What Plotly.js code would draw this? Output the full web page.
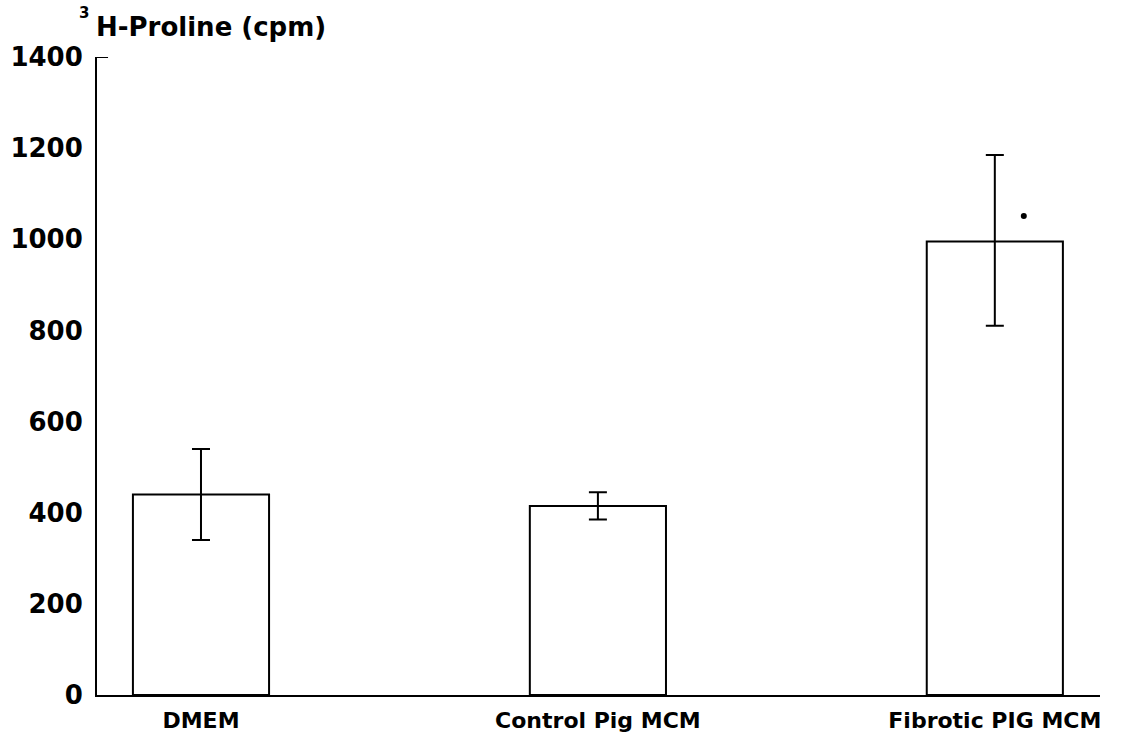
<!DOCTYPE html>
<html>
<head>
<meta charset="utf-8">
<script src="https://cdn.plot.ly/plotly-3.0.1.min.js"></script>
<style>html,body{margin:0;padding:0;background:#fff;}#chart{width:1125px;height:734px;}</style>
</head>
<body>
<div id="chart"></div>
<script>
// Data
const categories = ["DMEM", "Control Pig MCM", "Fibrotic PIG MCM"];
const positions = [0, 1, 2];
const values = [440, 415, 995];
const errPlus = [100, 30, 190];
const errMinus = [100, 30, 185];
const yTicks = [0, 200, 400, 600, 800, 1000, 1200, 1400];
const sigX = [2.073];
const sigY = [1051];

const font = {family: "DejaVu Sans", color: "#000", weight: 700};

const bars = {
  type: "bar",
  x: positions,
  y: values,
  width: 0.343,
  marker: {color: "#fff", line: {color: "#000", width: 2}},
  error_y: {type: "data", symmetric: false, array: errPlus, arrayminus: errMinus,
            color: "#000", thickness: 2, width: 9},
  hoverinfo: "none"
};
const sig = {
  type: "scatter", mode: "markers", x: sigX, y: sigY,
  marker: {color: "#000", size: 6}, hoverinfo: "none"
};

const layout = {
  width: 1125, height: 734,
  margin: {l: 97, r: 25, t: 57, b: 39},
  paper_bgcolor: "#fff", plot_bgcolor: "#fff",
  showlegend: false,
  xaxis: {
    range: [-0.262, 2.265],
    tickvals: positions, ticktext: categories,
    showgrid: false, zeroline: false,
    showline: true, linecolor: "#000", linewidth: 2,
    ticks: "", ticklabelstandoff: 5,
    tickfont: Object.assign({size: 22}, font)
  },
  yaxis: {
    range: [0, 1400],
    tickvals: yTicks,
    showgrid: false, zeroline: false,
    showline: true, linecolor: "#000", linewidth: 2,
    ticks: "", ticklabelstandoff: 7,
    tickfont: Object.assign({size: 26}, font)
  },
  shapes: [
    {type: "line", xref: "paper", yref: "y", x0: 0, x1: 0.011, y0: 1400, y1: 1400,
     line: {color: "#000", width: 2}}
  ],
  annotations: [
    {xref: "paper", yref: "paper", x: -0.003, y: 1, yshift: 13, xanchor: "left", yanchor: "bottom",
     showarrow: false, text: "H-Proline (cpm)", font: Object.assign({size: 26}, font)},
    {xref: "paper", yref: "paper", x: -0.003, y: 1, yshift: 33, xshift: -17, xanchor: "left", yanchor: "bottom",
     showarrow: false, text: "3", font: Object.assign({size: 15}, font)}
  ]
};

Plotly.newPlot("chart", [bars, sig], layout, {displayModeBar: false, staticPlot: true});
</script>
</body>
</html>
